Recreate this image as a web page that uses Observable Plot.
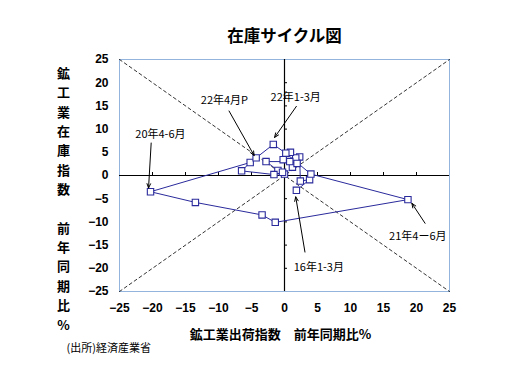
<!DOCTYPE html>
<html>
<head>
<meta charset="utf-8">
<script src="https://cdn.jsdelivr.net/npm/d3@7"></script>
<script src="https://cdn.jsdelivr.net/npm/@observablehq/plot@0.6"></script>
<style>
  html, body { margin: 0; padding: 0; background: #fff; }
</style>
</head>
<body>
<div id="chart"></div>
<script>
// Quarter labels (2016 Q1 .. 2022 Q1, then April 2022 preliminary)
const quarters = ["16/1-3","16/4-6","16/7-9","16/10-12","17/1-3","17/4-6","17/7-9","17/10-12",
  "18/1-3","18/4-6","18/7-9","18/10-12","19/1-3","19/4-6","19/7-9","19/10-12",
  "20/1-3","20/4-6","20/7-9","20/10-12","21/1-3","21/4-6","21/7-9","21/10-12","22/1-3","22/4P"];
// Shipments index, YoY %
const ship = [1.8, 3.8, 2.4, 2.3, 1.7, 0.9, -0.2, 1.2, 1.9, 0.8, -2.8, -1.0, 0.0, -0.3, -1.6, -6.5,
  -5.2, -20.3, -13.5, -3.4, -1.4, 18.7, 4.0, 0.2, -1.7, -4.3];
// Inventory index, YoY %
const inv = [-3.2, -0.9, -1.2, 4.0, 3.8, 5.0, 3.4, 1.8, 2.6, 3.0, 3.0, 1.1, 0.3, 0.7, 0.2, 1.0,
  2.8, -3.5, -5.8, -8.5, -10.1, -5.2, 0.3, 4.8, 6.7, 3.8];

const ticks = [-25, -20, -15, -10, -5, 0, 5, 10, 15, 20, 25];
const axisTicks = [-20, -15, -10, -5, 5, 10, 15, 20];

// Annotations: label, text position, arrow start and tip (data units)
const annText = ["22年4月P", "22年1-3月", "20年4-6月", "21年4ー6月", "16年1-3月"];
const annX  = [-9.1, 1.7, -18.8, 20.2, 5.2];
const annY  = [16.1, 16.8, 8.8, -13.1, -19.8];
const arrX1 = [-8.4, 1.8, -20.2, 21.3, 3.1];
const arrY1 = [13.9, 14.9, 7.0, -10.3, -16.5];
const arrX2 = [-4.6, -1.5, -20.6, 19.3, 1.7];
const arrY2 = [4.3, 8.2, -2.7, -6.0, -4.6];

// Reference diagonals
const diagA = [[-25, 25], [25, -25]];
const diagB = [[-25, -25], [25, 25]];

const rows = quarters.map((q, i) => ({q, x: ship[i], y: inv[i]}));
const ann = annText.map((t, i) => ({t, x: annX[i], y: annY[i], x1: arrX1[i], y1: arrY1[i], x2: arrX2[i], y2: arrY2[i]}));

const cjk = "'Noto Sans CJK JP', sans-serif";
const navy = "#2a2a9c";

const chart = Plot.plot({
  width: 513,
  height: 375,
  marginLeft: 119,
  marginRight: 64,
  marginTop: 59,
  marginBottom: 84,
  style: {fontFamily: "'Liberation Sans', Arial, 'Noto Sans CJK JP', sans-serif", background: "#fff", color: "#000"},
  x: {domain: [-25, 25]},
  y: {domain: [-25, 25]},
  marks: [
    Plot.frame({stroke: "#93b4dc", strokeWidth: 1}),
    Plot.line(diagA, {x: d => d[0], y: d => d[1], stroke: "#000", strokeWidth: 0.8, strokeDasharray: "3,3"}),
    Plot.line(diagB, {x: d => d[0], y: d => d[1], stroke: "#000", strokeWidth: 0.8, strokeDasharray: "3,3"}),
    Plot.ruleY([0], {stroke: "#000", strokeWidth: 1.2}),
    Plot.ruleX([0], {stroke: "#000", strokeWidth: 1.2}),
    Plot.ruleX(axisTicks, {x: d => d, y1: 0, y2: 0, insetTop: -3, stroke: "#000"}),
    Plot.ruleY(axisTicks, {y: d => d, x1: 0, x2: 0, insetRight: -3, stroke: "#000"}),
    Plot.axisX(ticks, {anchor: "bottom", tickSize: 0, tickPadding: 12, fontSize: 12, fontWeight: "bold", label: null}),
    Plot.axisY(ticks, {anchor: "left", tickSize: 0, tickPadding: 11, fontSize: 12, fontWeight: "bold", label: null}),
    Plot.line(rows, {x: "x", y: "y", stroke: navy, strokeWidth: 1}),
    Plot.dot(rows, {x: "x", y: "y", symbol: "square", r: 3.6, fill: "#fff", stroke: navy, strokeWidth: 1.1}),
    Plot.arrow(ann, {x1: "x1", y1: "y1", x2: "x2", y2: "y2", stroke: "#000", strokeWidth: 1, headLength: 7, headAngle: 45}),
    Plot.text(ann, {x: "x", y: "y", text: "t", fontSize: 11, fontFamily: cjk, fill: "#000"}),
    // Title
    Plot.text(["在庫サイクル図"], {frameAnchor: "top", dy: -23, lineAnchor: "middle", fontSize: 16.5, fontWeight: "bold", fontFamily: cjk, fill: "#000"}),
    // X axis title
    Plot.text(["鉱工業出荷指数　前年同期比%"], {frameAnchor: "bottom", dx: -4, dy: 43, lineAnchor: "middle", fontSize: 13, fontWeight: "bold", fontFamily: cjk, fill: "#000"}),
    // Y axis title (stacked vertical)
    Plot.text(["鉱\n工\n業\n在\n庫\n指\n数\n　\n前\n年\n同\n期\n比\n%"], {frameAnchor: "left", dx: -56, dy: 22, lineAnchor: "middle", textAnchor: "middle", lineHeight: 1.49, fontSize: 13, fontWeight: "bold", fontFamily: cjk, fill: "#000"}),
    // Source caption
    Plot.text(["(出所)経済産業省"], {frameAnchor: "bottom-left", dx: -53, dy: 57, textAnchor: "start", lineAnchor: "middle", fontSize: 11, fontFamily: cjk, fill: "#000"})
  ]
});
document.getElementById("chart").appendChild(chart);
</script>
</body>
</html>
